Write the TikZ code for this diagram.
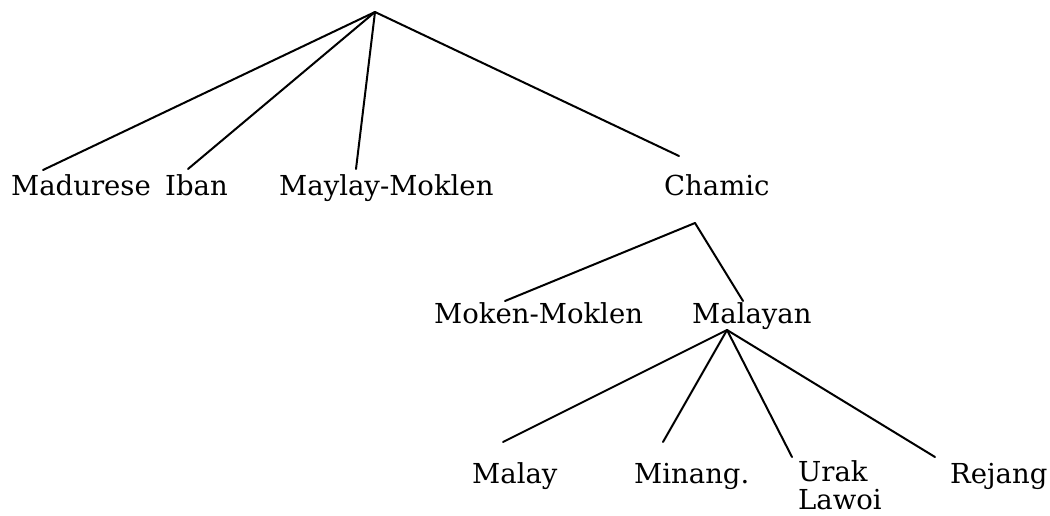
\documentclass[tikz,border=0pt]{standalone}
\usepackage{fontspec}
\setmainfont{DejaVu Serif}
\begin{document}
\begin{tikzpicture}[x=1pt,y=-1pt,
  lbl/.style={inner sep=0pt,anchor=base west,font=\fontsize{27.5}{30}\selectfont},
  edge/.style={line width=2pt,line cap=round}]
\useasboundingbox (0,0) rectangle (1050,516);
% labels
\node[lbl] (madurese) at (11,195) {Madurese};
\node[lbl] (iban) at (165,195) {Iban};
\node[lbl] (maylay) at (279,195) {Maylay-Moklen};
\node[lbl] (chamic) at (664,195) {Chamic};
\node[lbl] (moken) at (434,323) {Moken-Moklen};
\node[lbl] (malayan) at (692,323) {Malayan};
\node[lbl] (malay) at (472,483) {Malay};
\node[lbl] (minang) at (634,483) {Minang.};
\node[lbl,align=left,text depth=0pt,font=\fontsize{27.5}{28}\selectfont] (urak) at (798,509) {Urak\\Lawoi};
\node[lbl] (rejang) at (950,483) {Rejang};
% branch points
\coordinate (root) at (375,12);
\coordinate (chamictop) at (679,156);
\coordinate (chamicbot) at (695,223);
\coordinate (malayantop) at (743,301);
\coordinate (malayanbot) at (727,330);
\coordinate (madtop) at (43,170);
\coordinate (ibantop) at (188,169);
\coordinate (maytop) at (356,169);
\coordinate (mokentop) at (505,301);
\coordinate (malaytop) at (503,442);
\coordinate (minangtop) at (663,442);
\coordinate (uraktop) at (792,457);
\coordinate (rejangtop) at (935,457);
% connectors
\draw[edge] (root) -- (madtop);
\draw[edge] (root) -- (ibantop);
\draw[edge] (root) -- (maytop);
\draw[edge] (root) -- (chamictop);
\draw[edge] (chamicbot) -- (mokentop);
\draw[edge] (chamicbot) -- (malayantop);
\draw[edge] (malayanbot) -- (malaytop);
\draw[edge] (malayanbot) -- (minangtop);
\draw[edge] (malayanbot) -- (uraktop);
\draw[edge] (malayanbot) -- (rejangtop);
\end{tikzpicture}
\end{document}
